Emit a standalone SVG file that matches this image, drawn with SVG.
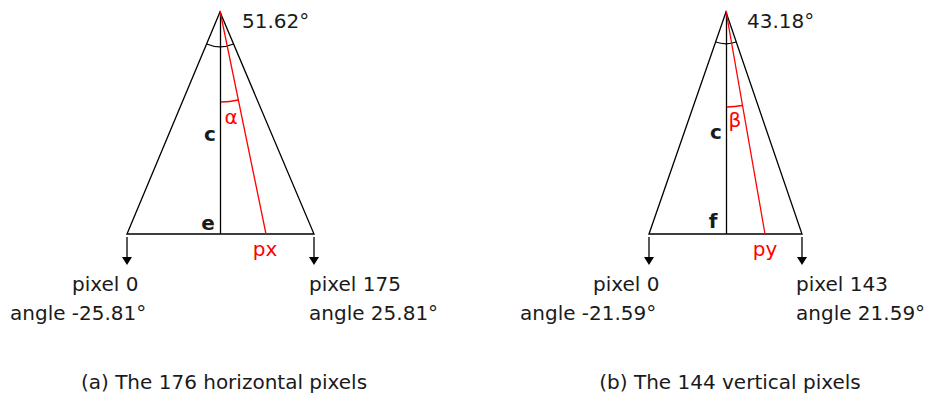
<svg xmlns="http://www.w3.org/2000/svg" width="927" height="396" viewBox="0 0 927 396">
<style>
text{font-family:"DejaVu Sans","Liberation Sans",sans-serif;font-size:20px;fill:#1a1a1a}
.b{font-weight:bold}
.r{fill:#ff0000}
.k{stroke:#000;stroke-width:1.3;fill:none}
.rl{stroke:#ff0000;stroke-width:1.3;fill:none}
.ah{fill:#000}
</style>
<rect width="927" height="396" fill="#fff"/>
<g id="triangle-a">
<path class="k" d="M127,234 L220,12 L314,234 Z"/>
<line class="k" x1="220.5" y1="12" x2="220.5" y2="234"/>
<path class="k" d="M206.6,44 A34.7,34.7 0 0 0 233.5,44"/>
<line class="rl" x1="220" y1="11" x2="266" y2="234"/>
<path class="rl" d="M221,102 A90,90 0 0 0 238.3,100"/>
<text x="231" y="124" class="r" text-anchor="middle">α</text>
<text x="210" y="141" class="b" text-anchor="middle">c</text>
<text x="208" y="230" class="b" text-anchor="middle">e</text>
<text x="265" y="256" class="r" text-anchor="middle">px</text>
<text x="242" y="28">51.62°</text>
</g>
<g id="triangle-b">
<path class="k" d="M649,234 L726,12 L802,234 Z"/>
<line class="k" x1="726.5" y1="12" x2="726.5" y2="234"/>
<path class="k" d="M715.6,42 A31.7,31.7 0 0 0 736.3,42"/>
<line class="rl" x1="726" y1="11" x2="765" y2="234"/>
<path class="rl" d="M727,107 A95,95 0 0 0 742.4,105.5"/>
<text x="735" y="127" class="r" text-anchor="middle">β</text>
<text x="716" y="139" class="b" text-anchor="middle">c</text>
<text x="713" y="228" class="b" text-anchor="middle">f</text>
<text x="765" y="256" class="r" text-anchor="middle">py</text>
<text x="747" y="28">43.18°</text>
</g>
<g id="connectors">
<path d="M127,237 L127,258" class="k"/>
<path d="M122,257 L132,257 L127,265 Z" class="ah"/>
<path d="M314,237 L314,258" class="k"/>
<path d="M309,257 L319,257 L314,265 Z" class="ah"/>
<path d="M649,237 L649,258" class="k"/>
<path d="M644,257 L654,257 L649,265 Z" class="ah"/>
<path d="M802,237 L802,258" class="k"/>
<path d="M797,257 L807,257 L802,265 Z" class="ah"/>
</g>
<g id="labels-a">
<text x="72" y="291">pixel 0</text>
<text x="10" y="320">angle -25.81°</text>
<text x="309" y="291">pixel 175</text>
<text x="309" y="320">angle 25.81°</text>
<text x="224" y="389" text-anchor="middle">(a) The 176 horizontal pixels</text>
</g>
<g id="labels-b">
<text x="593" y="291">pixel 0</text>
<text x="520" y="320">angle -21.59°</text>
<text x="796" y="291">pixel 143</text>
<text x="796" y="320">angle 21.59°</text>
<text x="730" y="389" text-anchor="middle">(b) The 144 vertical pixels</text>
</g>
</svg>
